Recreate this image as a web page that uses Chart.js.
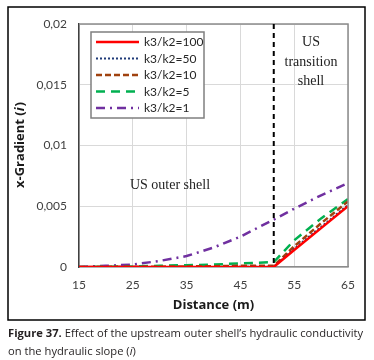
<!DOCTYPE html>
<html><head><meta charset="utf-8">
<script src="https://cdn.jsdelivr.net/npm/chart.js@4"></script>
<style>
html,body{margin:0;padding:0;background:#fff;}
#wrap{position:relative;width:374px;height:360px;}
#c{position:absolute;left:0;top:0;}
#cap{position:absolute;left:8px;top:324px;width:366px;font-family:"Open Sans",sans-serif;font-size:11.2px;line-height:18px;color:#231f20;letter-spacing:0;white-space:nowrap;}
</style></head>
<body>
<div id="wrap">
<canvas id="c" width="374" height="360"></canvas>
<div id="cap"><b>Figure 37.</b> Effect of the upstream outer shell’s hydraulic conductivity<br>on the hydraulic slope (<i>i</i>)</div>
</div>
<script>
const distances = [15, 20, 25, 30, 35, 40, 45, 51.2, 55, 60, 65];
const seriesLabels = ["k3/k2=100", "k3/k2=50", "k3/k2=10", "k3/k2=5", "k3/k2=1"];
const k100 = [0, 0, 0, 0, 0, 0, 0, 0, 0.0014, 0.0032, 0.0050];
const k50  = [0, 0, 0, 0, 0, 0, 0.00002, 0.00003, 0.0015, 0.0033, 0.0051];
const k10  = [0, 0.00001, 0.00002, 0.00003, 0.00005, 0.00007, 0.0001, 0.0001, 0.0017, 0.0036, 0.0054];
const k5   = [0, 0.00002, 0.00005, 0.0001, 0.00015, 0.0002, 0.0003, 0.0004, 0.0022, 0.0040, 0.0056];
const k1   = [0, 0.0001, 0.0002, 0.0005, 0.0009, 0.0016, 0.0025, 0.0039, 0.0048, 0.0059, 0.0069];
const xTicks = [15, 25, 35, 45, 55, 65];
const yTickLabels = ["0", "0,005", "0,01", "0,015", "0,02"];
const boundaryX = 51.2;

const pts = arr => arr.map((v, i) => ({x: distances[i], y: v}));

const styles = [
  {color: "#ff0000", dash: [], width: 2.5},
  {color: "#1f3a78", dash: [2, 2], width: 2},
  {color: "#a0420f", dash: [6, 3], width: 2.5},
  {color: "#00b050", dash: [9, 6], width: 2.5},
  {color: "#7030a0", dash: [9, 5, 2, 5], width: 2.5}
];
const allSeries = [k100, k50, k10, k5, k1];
const datasets = allSeries.map((s, i) => ({
  label: seriesLabels[i],
  data: pts(s),
  borderColor: styles[i].color,
  borderDash: styles[i].dash,
  borderWidth: styles[i].width,
  pointRadius: 0,
  fill: false,
  tension: 0,
  order: i
}));

const deco = {
  id: "deco",
  beforeDraw(chart) {
    const ctx = chart.ctx;
    ctx.save();
    ctx.fillStyle = "#fff";
    ctx.fillRect(0, 0, chart.width, chart.height);
    ctx.restore();
  },
  afterDatasetsDraw(chart) {
    const ctx = chart.ctx, a = chart.chartArea, x = chart.scales.x;
    ctx.save();
    ctx.strokeStyle = "#8c8c8c";
    ctx.lineWidth = 1.5;
    ctx.beginPath();
    ctx.moveTo(a.left, a.top); ctx.lineTo(a.right, a.top); ctx.lineTo(a.right, a.bottom);
    ctx.stroke();
    const bx = x.getPixelForValue(boundaryX);
    ctx.strokeStyle = "#000";
    ctx.lineWidth = 2;
    ctx.setLineDash([5, 4]);
    ctx.beginPath();
    ctx.moveTo(bx, a.top); ctx.lineTo(bx, a.bottom);
    ctx.stroke();
    ctx.setLineDash([]);
    ctx.fillStyle = "#222";
    ctx.font = '14px "Liberation Serif", serif';
    ctx.textAlign = "center";
    ctx.textBaseline = "middle";
    ctx.fillText("US", 311, 42);
    ctx.fillText("transition", 311, 62);
    ctx.fillText("shell", 311, 81);
    ctx.fillText("US outer shell", 170, 185);
    const lx = 91, ly = 32, lw = 113, lh = 86;
    ctx.fillStyle = "#fff";
    ctx.fillRect(lx, ly, lw, lh);
    ctx.strokeStyle = "#7f7f7f";
    ctx.lineWidth = 1.5;
    ctx.strokeRect(lx, ly, lw, lh);
    ctx.font = '12px Lato, sans-serif';
    ctx.textAlign = "left";
    chart.data.datasets.forEach((d, i) => {
      const yy = 42 + i * 16.5;
      ctx.strokeStyle = d.borderColor;
      ctx.lineWidth = d.borderWidth;
      ctx.setLineDash(d.borderDash);
      ctx.beginPath();
      ctx.moveTo(96, yy); ctx.lineTo(139, yy);
      ctx.stroke();
      ctx.setLineDash([]);
      ctx.fillStyle = "#262626";
      ctx.fillText(d.label, 144, yy + 0.5);
    });
    ctx.fillStyle = "#1a1a1a";
    ctx.font = 'bold 13px "Open Sans", sans-serif';
    ctx.textAlign = "center";
    ctx.fillText("Distance (m)", (a.left + a.right) / 2, 305);
    ctx.translate(20, (a.top + a.bottom) / 2);
    ctx.rotate(-Math.PI / 2);
    const t1 = "x-Gradient (", t2 = "i", t3 = ")";
    ctx.font = 'bold 13px "Open Sans", sans-serif';
    const w1 = ctx.measureText(t1).width, w3 = ctx.measureText(t3).width;
    ctx.font = 'bold italic 13px "Open Sans", sans-serif';
    const w2 = ctx.measureText(t2).width;
    let sx = -(w1 + w2 + w3) / 2;
    ctx.textAlign = "left";
    ctx.font = 'bold 13px "Open Sans", sans-serif';
    ctx.fillText(t1, sx, 0);
    ctx.font = 'bold italic 13px "Open Sans", sans-serif';
    ctx.fillText(t2, sx + w1, 0);
    ctx.font = 'bold 13px "Open Sans", sans-serif';
    ctx.fillText(t3, sx + w1 + w2 + 1, 0);
    ctx.restore();
  },
  afterDraw(chart) {
    const ctx = chart.ctx;
    ctx.save();
    ctx.strokeStyle = "#000";
    ctx.lineWidth = 1.5;
    ctx.strokeRect(8, 7, 357, 313);
    ctx.restore();
  }
};

new Chart(document.getElementById("c"), {
  type: "line",
  data: {datasets},
  options: {
    responsive: false,
    animation: false,
    layout: {padding: {left: 0, right: 26, top: 24, bottom: 0}},
    plugins: {legend: {display: false}, tooltip: {enabled: false}},
    scales: {
      x: {
        type: "linear", min: 15, max: 65,
        afterBuildTicks: s => { s.ticks = xTicks.map(v => ({value: v})); },
        afterFit: s => { s.height = 93; },
        grid: {color: "#d9d9d9", lineWidth: 1, drawTicks: false},
        border: {color: "#8c8c8c", width: 1.5},
        ticks: {padding: 11, color: "#404040", font: {family: "Lato", size: 12}, maxRotation: 0}
      },
      y: {
        min: 0, max: 0.02,
        ticks: {stepSize: 0.005, padding: 12, color: "#404040", font: {family: "Lato", size: 12},
          callback: (v, i) => yTickLabels[i]},
        afterFit: s => { s.width = 79; },
        grid: {color: "#d9d9d9", lineWidth: 1, drawTicks: false},
        border: {color: "#404040", width: 1.5}
      }
    }
  },
  plugins: [deco]
});
</script>
</body></html>
